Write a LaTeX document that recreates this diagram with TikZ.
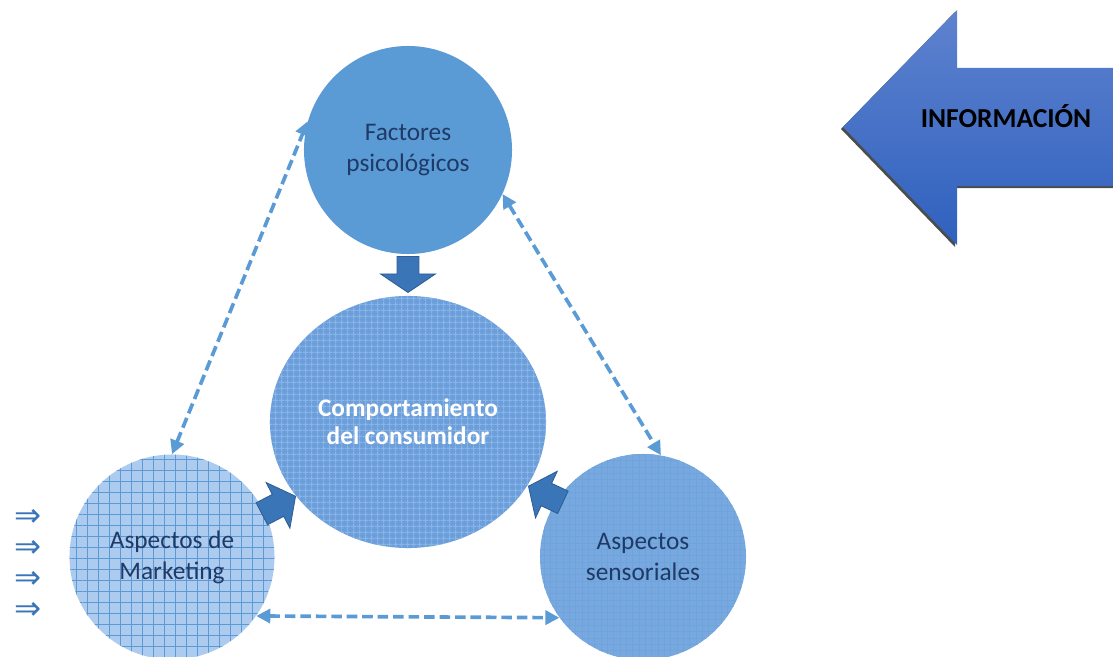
\documentclass[tikz,border=0pt]{standalone}
\usepackage{fontspec}
\setmainfont{Carlito}
\newfontfamily\simbolos{DejaVu Sans}
\usetikzlibrary{shapes.geometric,shapes.arrows,arrows.meta,patterns.meta}

\definecolor{azulA}{HTML}{5B9BD5}
\definecolor{azulB}{HTML}{6A9FDC}
\definecolor{azulC}{HTML}{ADCBEE}
\definecolor{azulD}{HTML}{78A8DF}
\definecolor{azulF}{HTML}{3A75B8}
\definecolor{marino}{HTML}{1F3A66}
\definecolor{infoArriba}{HTML}{5E82CF}
\definecolor{infoAbajo}{HTML}{2F61BE}

\tikzset{
  burbuja/.style={circle,draw=none,inner sep=0pt,align=center,text=marino,
    font=\fontsize{18}{22}\selectfont},
  conector/.style={{Triangle[length=10pt,width=10pt]}-{Triangle[length=10pt,width=10pt]},
    draw=azulA,line width=2.6pt,dash pattern=on 7.5pt off 3.5pt},
  flecha/.style={single arrow,fill=azulF,draw=azulF!80!black,line width=.6pt,
    inner xsep=0pt,inner ysep=8.5pt,single arrow head extend=9.5pt,
    single arrow tip angle=105,minimum height=27pt},
}

\begin{document}
\begin{tikzpicture}[x=0.025cm,y=-0.025cm]
  \useasboundingbox (0,0) rectangle (1113,657);
  \clip (0,0) rectangle (1113,657);

  % circulos
  \node[burbuja,minimum size=5.2cm,fill=azulA] (psico) at (408,150)
    {Factores\\psicológicos};
  \node[burbuja,ellipse,minimum width=6.9cm,minimum height=6.3cm,fill=azulB,
    postaction={pattern={Hatch[distance=4pt,line width=.8pt]},pattern color=white!22!azulB},
    text=white,font=\bfseries\fontsize{18}{20}\selectfont] (comp) at (408,422)
    {Comportamiento\\del consumidor};
  \node[burbuja,minimum size=5.125cm,fill=azulC,
    postaction={pattern={Hatch[distance=7.8pt,line width=.6pt]},pattern color=azulA}]
    (marketing) at (172,557) {Aspectos de\\Marketing};
  \node[burbuja,minimum size=5.15cm,fill=azulD,
    postaction={pattern={Hatch[distance=4.5pt,line width=.7pt]},pattern color=azulA!90!white}]
    (sensorial) at (643,557) {Aspectos\\sensoriales};

  % flechas de bloque
  \node[flecha,rotate=-90,anchor=tip,inner ysep=7.5pt,single arrow head extend=11.7pt,
    single arrow tip angle=112,minimum height=25.6pt] (flechaP) at (408,293) {};
  \node[flecha,rotate=27.5,anchor=tip] (flechaM) at (296,496) {};
  \node[flecha,rotate=155,anchor=tip] (flechaS) at (528,486) {};

  % conectores
  \draw[conector] (marketing.90) -- (psico.164);
  \draw[conector] (psico.-25) -- (sensorial.80);
  \draw[conector] (marketing.-35) -- (sensorial.-144);

  % informacion
  \fill[black!70,shift={(-2,2)}]
    (843,127) -- (957,10) -- (957,68) -- (1120,68) -- (1120,186) -- (957,186) -- (957,245) -- cycle;
  \shade[top color=infoArriba,bottom color=infoAbajo]
    (843,127) -- (957,10) -- (957,68) -- (1120,68) -- (1120,186) -- (957,186) -- (957,245) -- cycle;
  \node[font=\bfseries\fontsize{19.5}{22}\selectfont] (info) at (1006,116) {INFORMACIÓN};

  % flechas izquierda
  \foreach \y/\n in {518/1,549/2,580/3,611/4}
    \node[text=azulF,font=\simbolos\fontsize{23}{24}\selectfont,inner sep=0pt] (imp\n) at (28,\y) {⇒};
\end{tikzpicture}
\end{document}
